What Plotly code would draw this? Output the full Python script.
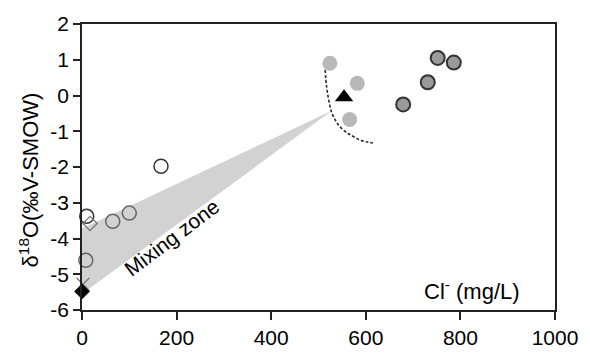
import plotly.graph_objects as go

# Mixing zone wedge (Cl-, d18O)
wedge_x = [0, 528, 0, 0]
wedge_y = [-3.72, -0.43, -5.55, -3.72]

# Dashed curve near seawater end member
curve_x = [514, 517, 522, 528, 536, 545, 556, 566, 578, 590, 603, 615]
curve_y = [0.72, 0.26, -0.15, -0.48, -0.70, -0.87, -1.00, -1.09, -1.18, -1.26, -1.30, -1.33]

# Open circles (fresh groundwater)
open_x = [65, 100, 8]
open_y = [-3.52, -3.29, -4.61]
open_dark_x = [10, 167]
open_dark_y = [-3.38, -1.98]

# Open diamond
odia_x = [17]
odia_y = [-3.58]

# Cross marker
cross_x = [2]
cross_y = [-5.28]

# Black diamond
bdia_x = [0]
bdia_y = [-5.48]

# Light gray circles
lg_x = [524, 582, 566]
lg_y = [0.90, 0.34, -0.67]

# Black triangle
tri_x = [554]
tri_y = [-0.05]

# Gray circles with dark outline
dg_x = [752, 786, 731, 679]
dg_y = [1.05, 0.92, 0.37, -0.25]

# Tick values / labels
x_ticks = [0, 200, 400, 600, 800, 1000]
x_ticktext = ["0", "200", "400", "600", "800", "1000"]
y_ticks = [-6, -5, -4, -3, -2, -1, 0, 1, 2]
y_ticktext = ["-6", "-5", "-4", "-3", "-2", "-1", "0", "1", "2"]

FONT = "Arial, Liberation Sans, sans-serif"

fig = go.Figure()
fig.add_trace(go.Scatter(x=wedge_x, y=wedge_y, fill="toself", fillcolor="#d2d2d2",
                         mode="lines", line=dict(width=0), hoverinfo="skip"))
fig.add_trace(go.Scatter(x=curve_x, y=curve_y, mode="lines", line_shape="spline",
                         line=dict(color="#2a2a2a", width=1.6, dash="3px,2px")))
fig.add_trace(go.Scatter(x=open_x, y=open_y, mode="markers", cliponaxis=False,
                         marker=dict(symbol="circle-open", size=14, color="#666666",
                                     line=dict(width=1.5))))
fig.add_trace(go.Scatter(x=open_dark_x, y=open_dark_y, mode="markers", cliponaxis=False,
                         marker=dict(symbol="circle-open", size=14, color="#333333",
                                     line=dict(width=1.5))))
fig.add_trace(go.Scatter(x=odia_x, y=odia_y, mode="markers", cliponaxis=False,
                         marker=dict(symbol="diamond-open", size=11, color="#777777",
                                     line=dict(width=1.3))))
fig.add_trace(go.Scatter(x=cross_x, y=cross_y, mode="markers", cliponaxis=False,
                         marker=dict(symbol="x-thin-open", size=13, color="#777777",
                                     line=dict(width=1.2))))
fig.add_trace(go.Scatter(x=bdia_x, y=bdia_y, mode="markers", cliponaxis=False,
                         marker=dict(symbol="diamond", size=12, color="black")))
fig.add_trace(go.Scatter(x=lg_x, y=lg_y, mode="markers",
                         marker=dict(symbol="circle", size=15, color="#b8b8b8",
                                     line=dict(width=0))))
fig.add_trace(go.Scatter(x=tri_x, y=tri_y, mode="markers",
                         marker=dict(symbol="triangle-up", size=16, color="black")))
fig.add_trace(go.Scatter(x=dg_x, y=dg_y, mode="markers",
                         marker=dict(symbol="circle", size=14, color="#9a9a9a",
                                     line=dict(width=2, color="#333333"))))

fig.add_annotation(x=190, y=-3.98, text="Mixing zone", showarrow=False, textangle=-37,
                   font=dict(family=FONT, size=21, color="black"))
fig.add_annotation(x=930, y=-5.44, text="Cl<sup>-</sup> (mg/L)", showarrow=False,
                   xanchor="right", font=dict(family=FONT, size=22, color="black"))
fig.add_annotation(xref="paper", yref="paper", x=-0.113, y=0.455,
                   text="δ<sup>18</sup>O(‰V-SMOW)", showarrow=False, textangle=-90,
                   xanchor="center", yanchor="middle",
                   font=dict(family=FONT, size=22, color="black"))

fig.update_layout(
    width=590, height=361,
    margin=dict(l=82, r=29, t=19, b=36),
    paper_bgcolor="white", plot_bgcolor="white",
    showlegend=False,
    font=dict(family=FONT, size=21, color="black"),
    xaxis=dict(range=[0, 1000], tickvals=x_ticks, ticktext=x_ticktext,
               showgrid=False, zeroline=False, showline=True, linecolor="#222222",
               linewidth=1.5, mirror=True, ticks="outside", ticklen=8, tickcolor="#222222",
               tickwidth=1.5, tickfont=dict(size=21)),
    yaxis=dict(range=[-6, 2], tickvals=y_ticks, ticktext=y_ticktext,
               showgrid=False, zeroline=False, showline=True, linecolor="#222222",
               linewidth=1.5, mirror=True, ticks="outside", ticklen=7, tickcolor="#222222",
               tickwidth=1.5, tickfont=dict(size=21)),
)

fig.write_html("out.html", config={"displayModeBar": False},
               post_script="document.body.style.margin='0';document.body.style.overflow='hidden';")
